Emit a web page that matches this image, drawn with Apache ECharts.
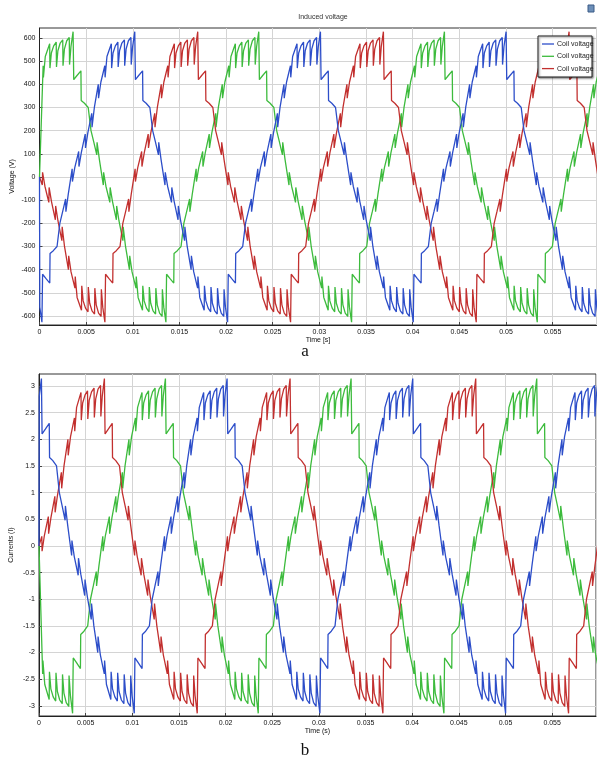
<!DOCTYPE html>
<html>
<head>
<meta charset="utf-8">
<script src="https://cdn.jsdelivr.net/npm/echarts@6/dist/echarts.min.js"></script>
<style>
  html, body { margin: 0; padding: 0; background: #fff; }
  #chart { width: 597px; height: 762px; }
</style>
</head>
<body>
<div id="chart"></div>
<script>
// one rising half-cycle (trough -> peak), offsets in ms
const riseMs = [
  0, 0.05, 0.4, 0.82, 0.85, 1.2, 1.6, 1.9, 2.2, 2.52,
  2.55, 2.8, 3.22, 3.25, 3.5, 3.92, 3.95, 4.2, 4.62, 4.65,
  4.9, 5.32, 5.35, 5.6, 6.02, 6.05, 6.3, 6.72, 6.75, 6.95,
  7.42, 7.45, 7.6, 7.85, 8.12, 8.15, 8.3, 8.55, 8.82, 8.85,
  9.0, 9.25, 9.52, 9.55, 9.7, 9.93,
];
const riseVolts = [
  -625, -420, -438, -458, -330, -318, -300, -200, -150, -95,
  -150, -75, 35, -20, 40, 110, 45, 105, 185, 125,
  190, 275, 215, 300, 400, 340, 410, 480, 430, 520,
  575, 470, 535, 566, 582, 475, 545, 578, 592, 480,
  552, 588, 602, 485, 562, 627,
];
const riseAmps = [
  -3.13, -2.1, -2.19, -2.3, -1.66, -1.6, -1.5, -1.0, -0.75, -0.48,
  -0.75, -0.38, 0.18, -0.1, 0.2, 0.55, 0.23, 0.53, 0.93, 0.63,
  0.95, 1.38, 1.08, 1.5, 2.0, 1.7, 2.05, 2.4, 2.15, 2.6,
  2.88, 2.36, 2.68, 2.83, 2.91, 2.38, 2.73, 2.89, 2.96, 2.41,
  2.76, 2.94, 3.01, 2.43, 2.81, 3.14,
];
const halfMs = 9.95;

// trough times (ms) of each phase
const voltBlueTroughs = [-19.62, 0.28, 20.18, 40.08];
const voltGreenTroughs = [-6.33, 13.57, 33.47, 53.37];
const voltRedTroughs = [-12.87, 7.03, 26.93, 46.83];
const curBlueTroughs = [-9.67, 10.23, 30.13, 50.03];
const curGreenTroughs = [-16.28, 3.62, 23.52, 43.42];
const curRedTroughs = [-2.92, 16.98, 36.88, 56.78];

const voltTicks = [-600, -500, -400, -300, -200, -100, 0, 100, 200, 300, 400, 500, 600];
const curTicks = [-3, -2.5, -2, -1.5, -1, -0.5, 0, 0.5, 1, 1.5, 2, 2.5, 3];
const legendNames = ["Coil voltage", "Coil voltage", "Coil voltage"];

const BLUE = "#2d4ec9";
const GREEN = "#3dbb3d";
const RED = "#c2302f";
const xMax = 0.0597;

function buildSeries(troughs, values) {
  const pts = [[0, 0]];
  troughs.forEach((t0) => {
    riseMs.forEach((off, i) => pts.push([(t0 + off) / 1000, values[i]]));
    riseMs.forEach((off, i) => pts.push([(t0 + halfMs + off) / 1000, -values[i]]));
  });
  return pts.filter((p, i) => i === 0 || (p[0] > 0 && p[0] < xMax + 0.001));
}

function lineSeries(idx, color, data) {
  return {
    type: "line",
    xAxisIndex: idx,
    yAxisIndex: idx,
    data,
    showSymbol: false,
    symbol: "none",
    lineStyle: { color, width: 1.3 },
    animation: false,
  };
}

const labelFont = { fontSize: 7, color: "#111", fontFamily: "Liberation Sans" };

function xAxisCfg(idx, name) {
  return {
    type: "value",
    gridIndex: idx,
    min: 0,
    max: xMax,
    interval: 0.005,
    name,
    nameLocation: "middle",
    nameGap: 12,
    nameMoveOverlap: false,
    nameTextStyle: { ...labelFont },
    axisLine: { onZero: false, lineStyle: { color: "#222" } },
    axisTick: { inside: true, length: 3, lineStyle: { color: "#444" } },
    axisLabel: { ...labelFont, margin: 4, showMaxLabel: false },
    splitLine: { lineStyle: { color: "#d4d4d4" } },
  };
}

function yAxisCfg(idx, min, max, ticks, name) {
  return {
    type: "value",
    gridIndex: idx,
    min,
    max,
    name,
    nameLocation: "middle",
    nameGap: 24,
    nameMoveOverlap: false,
    nameTextStyle: { ...labelFont },
    axisLine: { onZero: false, lineStyle: { color: "#222" } },
    axisTick: { inside: true, length: 3, customValues: ticks, lineStyle: { color: "#444" } },
    axisLabel: { ...labelFont, margin: 4, customValues: ticks },
    splitLine: { lineStyle: { color: "#d4d4d4" } },
  };
}

const legendColors = [BLUE, GREEN, RED];
const legendItems = [];
legendNames.forEach((nm, i) => {
  const y = 44 + i * 12.3;
  legendItems.push({
    type: "line",
    shape: { x1: 542, y1: y, x2: 554, y2: y },
    style: { stroke: legendColors[i], lineWidth: 1.3 },
    z: 101,
  });
  legendItems.push({
    type: "text",
    x: 557,
    y,
    style: { text: nm, fontSize: 7, fill: "#222", fontFamily: "Liberation Sans", verticalAlign: "middle" },
    z: 101,
  });
});

const chart = echarts.init(document.getElementById("chart"), null, { renderer: "canvas" });
chart.setOption({
  animation: false,
  backgroundColor: "#fff",
  title: {
    text: "Induced voltage",
    left: 318,
    top: 9,
    textAlign: "center",
    textStyle: { fontSize: 7, fontWeight: "normal", color: "#333", fontFamily: "Liberation Sans" },
  },
  grid: [
    { left: 39.5, top: 28, width: 557, height: 297, show: true, borderColor: "#333", borderWidth: 1, outerBoundsMode: "none", containLabel: false },
    { left: 39, top: 374, width: 557, height: 342, show: true, borderColor: "#333", borderWidth: 1, outerBoundsMode: "none", containLabel: false },
  ],
  xAxis: [xAxisCfg(0, "Time [s]"), xAxisCfg(1, "Time (s)")],
  yAxis: [
    yAxisCfg(0, -639, 643, voltTicks, "Voltage (V)"),
    yAxisCfg(1, -3.19, 3.225, curTicks, "Currents (I)"),
  ],
  series: [
    lineSeries(0, GREEN, buildSeries(voltGreenTroughs, riseVolts)),
    lineSeries(0, RED, buildSeries(voltRedTroughs, riseVolts)),
    lineSeries(0, BLUE, buildSeries(voltBlueTroughs, riseVolts)),
    lineSeries(1, GREEN, buildSeries(curGreenTroughs, riseAmps)),
    lineSeries(1, RED, buildSeries(curRedTroughs, riseAmps)),
    lineSeries(1, BLUE, buildSeries(curBlueTroughs, riseAmps)),
  ],
  graphic: [
    {
      type: "rect",
      shape: { x: 538, y: 36, width: 54, height: 41 },
      style: { fill: "#fff", stroke: "#222", lineWidth: 1, shadowBlur: 2, shadowOffsetX: 1, shadowOffsetY: 1, shadowColor: "rgba(0,0,0,0.5)" },
      z: 100,
    },
    ...legendItems,
    {
      type: "rect",
      shape: { x: 588, y: 5, width: 6, height: 7 },
      style: { fill: "#6d8fb8", stroke: "#3a5a86", lineWidth: 1 },
      z: 100,
    },
    {
      type: "text",
      x: 305,
      y: 352,
      style: { text: "a", fontSize: 17, fill: "#111", fontFamily: "Liberation Serif", align: "center", verticalAlign: "middle" },
    },
    {
      type: "text",
      x: 305,
      y: 751,
      style: { text: "b", fontSize: 17, fill: "#111", fontFamily: "Liberation Serif", align: "center", verticalAlign: "middle" },
    },
  ],
});
</script>
</body>
</html>
